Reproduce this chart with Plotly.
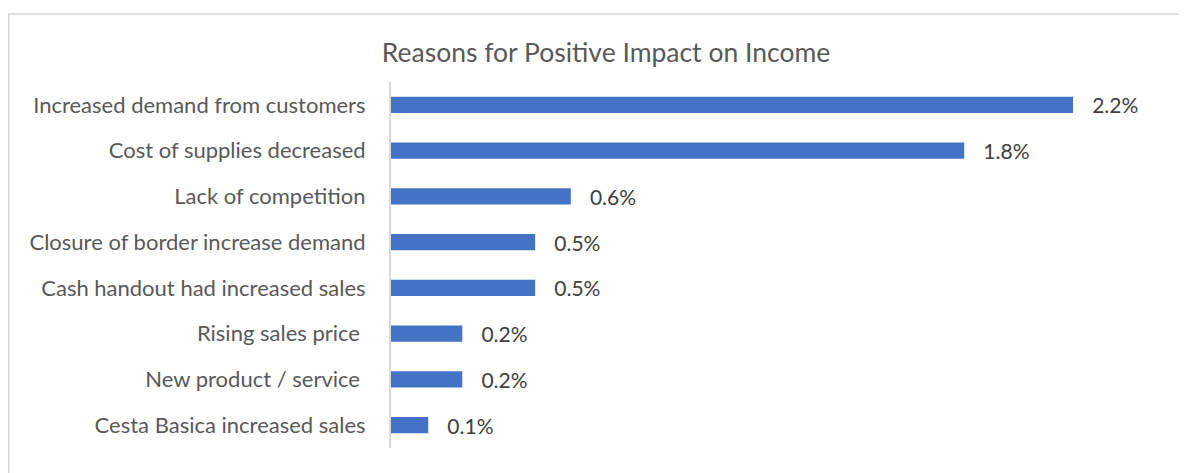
import plotly.graph_objects as go

categories = [
    "Increased demand from customers",
    "Cost of supplies decreased",
    "Lack of competition",
    "Closure of border increase demand",
    "Cash handout had increased sales",
    "Rising sales price ",
    "New product / service ",
    "Cesta Basica increased sales",
]
values = [2.2, 1.849, 0.58, 0.465, 0.465, 0.23, 0.23, 0.12]

title_text = "Reasons for Positive Impact on Income"
FONT = "Lato, 'Open Sans', sans-serif"

# page has an 8px body margin, so positions are shifted by -8
L, T, R, B = 383, 74, 29, 33
PW, PH = 1187 - L - R, 473 - T - B

fig = go.Figure()
fig.add_trace(go.Bar(
    x=values,
    y=categories,
    orientation="h",
    marker=dict(color="#4472C4", line=dict(width=0)),
    width=0.35,
    texttemplate="   %{x:.1f}%",
    textposition="outside",
    constraintext="none",
    cliponaxis=False,
    textfont=dict(family=FONT, size=21, color="#404040"),
    hoverinfo="skip",
))

fig.update_layout(
    width=1187,
    height=473,
    margin=dict(l=L, r=R, t=T, b=B),
    paper_bgcolor="white",
    plot_bgcolor="white",
    showlegend=False,
    title=dict(
        text=title_text,
        x=598 / 1187, xanchor="center",
        y=1 - 45 / 473, yanchor="middle",
        font=dict(family=FONT, size=26.5, color="#595959"),
    ),
    xaxis=dict(
        range=[0, 2.5],
        showgrid=False, zeroline=False, showline=False,
        showticklabels=False, ticks="",
    ),
    yaxis=dict(
        autorange="reversed",
        showgrid=False, zeroline=False,
        showline=True, linecolor="#D9D9D9", linewidth=2,
        ticks="", ticklabelstandoff=19,
        tickfont=dict(family=FONT, size=22, color="#595959"),
    ),
    shapes=[dict(
        type="rect", xref="paper", yref="paper",
        x0=(0.75 - L) / PW, x1=(1230 - L) / PW,
        y0=-60 / PH, y1=1 + (T - 6) / PH,
        line=dict(color="#D9D9D9", width=1.5),
        fillcolor="rgba(0,0,0,0)",
        layer="below",
    )],
)

fig.write_html("out.html")
